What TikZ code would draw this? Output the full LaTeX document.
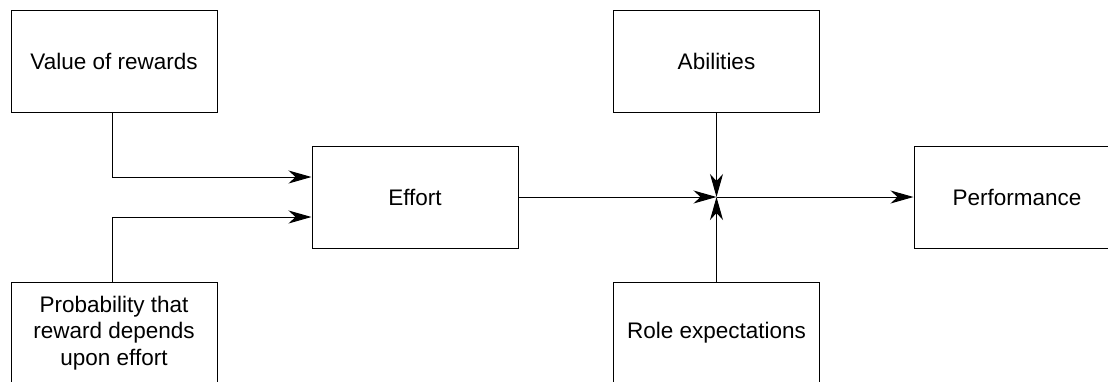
\documentclass[tikz,border=0pt]{standalone}
\usepackage{fontspec}
\setmainfont{Liberation Sans}
\usetikzlibrary{arrows.meta}
\begin{document}
\begin{tikzpicture}[x=1pt,y=-1pt,
  box/.style={draw, line width=1pt, minimum width=206pt, minimum height=102pt,
    inner sep=0pt, align=center, font=\fontsize{22.5}{26.5}\selectfont},
  arr/.style={line width=1pt, -{Stealth[length=23pt,width=13pt,inset=7pt]}}]
\useasboundingbox (0,0) rectangle (1108,381);
\node[box] (val) at (114,61) {Value of rewards};
\node[box] (eff) at (415,197) {Effort};
\node[box] (prob) at (114,333) {Probability that\\reward depends\\upon effort};
\node[box] (abil) at (716.5,61) {Abilities};
\node[box] (role) at (716.5,333) {Role expectations};
\node[box] (perf) at (1017,197) {Performance};
\coordinate (J) at (716.5,197);
\draw[arr] ([xshift=-2pt]val.south) |- ([yshift=20pt]eff.west);
\draw[arr] ([xshift=-2pt]prob.north) |- ([yshift=-20pt]eff.west);
\draw[arr] (eff.east) -- (J);
\draw[arr] (J) -- (perf.west);
\draw[arr] (abil.south) -- (J);
\draw[arr] (role.north) -- (J);
\end{tikzpicture}
\end{document}
